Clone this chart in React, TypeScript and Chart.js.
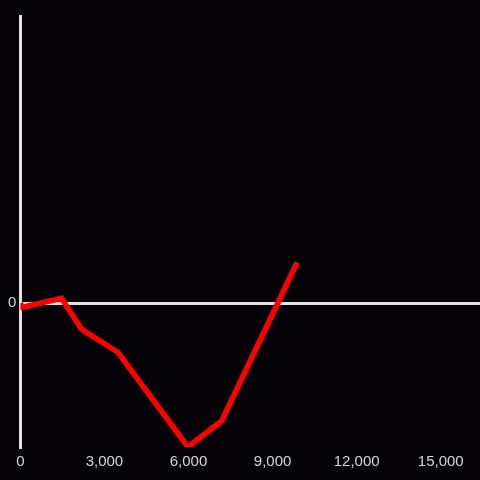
import React, { useEffect, useRef } from "react";
import { Chart, registerables } from "chart.js";

Chart.register(...registerables);

const xValues = [0, 71, 1471, 2186, 3482, 5982, 7186, 9875];
const yValues = [0, -4, 5, -26, -49, -144, -118, 41];
const xTickValues = [0, 3000, 6000, 9000, 12000, 15000];
const yTickValues = [0];

const BG = "#050308";
const AXIS = "#e2e2e2";
const TEXT = "#d6d6d6";
const FONT = "'Liberation Sans', Arial, sans-serif";

export default function App() {
  const ref = useRef<HTMLCanvasElement | null>(null);
  useEffect(() => {
    if (!ref.current) return;
    const chart = new Chart(ref.current, {
      type: "line",
      data: {
        datasets: [
          {
            data: xValues.map((x, i) => ({ x, y: yValues[i] })),
            borderColor: "#ff0000",
            borderWidth: 5.6,
            pointRadius: 0,
            tension: 0,
            fill: false,
          },
        ],
      },
      options: {
        animation: false,
        responsive: false,
        maintainAspectRatio: false,
        layout: { padding: { top: 16, left: 4, right: 0, bottom: 3 } },
        plugins: { legend: { display: false }, tooltip: { enabled: false } },
        scales: {
          x: {
            type: "linear",
            min: 0,
            max: 16400,
            afterBuildTicks: (axis: any) => {
              axis.ticks = xTickValues.map((v) => ({ value: v }));
            },
            ticks: {
              color: TEXT,
              padding: 6,
              maxRotation: 0,
              autoSkip: false,
              font: { family: FONT, size: 15 },
              callback: (v: any) => Number(v).toLocaleString("en-US"),
            },
            grid: { display: false, drawTicks: false },
            border: { display: false },
          },
          y: {
            type: "linear",
            min: -144,
            max: 288,
            afterBuildTicks: (axis: any) => {
              axis.ticks = yTickValues.map((v) => ({ value: v }));
            },
            ticks: {
              color: TEXT,
              padding: 4,
              font: { family: FONT, size: 15 },
              callback: (v: any) => String(v),
            },
            grid: { color: AXIS, lineWidth: 3, drawTicks: false },
            border: { display: true, color: AXIS, width: 3 },
          },
        },
      },
    });
    return () => chart.destroy();
  }, []);
  return (
    <div
      style={{
        position: "fixed",
        left: 0,
        top: 0,
        width: 480,
        height: 480,
        background: BG,
      }}
    >
      <canvas ref={ref} width={480} height={480} style={{ display: "block" }} />
    </div>
  );
}
